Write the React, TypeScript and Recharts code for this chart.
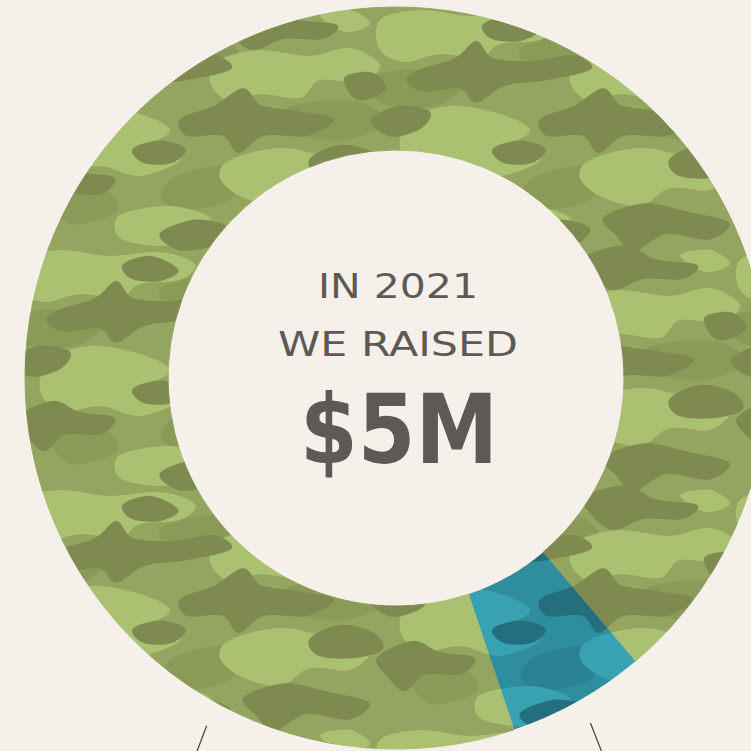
import { PieChart, Pie, Cell } from 'recharts';

// share of the $5M raised in 2021 (millions)
const SLICE_NAMES = ['Events', 'Donations', 'Grants', 'Veterans outreach'];
const SLICE_VALUES = [0.83, 2.56, 1.31, 0.3];
const SLICE_KIND = ['green', 'green', 'green', 'blue'];

const HEADLINE = ['IN 2021', 'WE RAISED'];
const TOTAL_LABEL = '$5M';

const BG = '#f5f1ea';
const INK = '#5e5957';

const PALETTES: Record<string, { base: string; mid: string; light: string; dark: string }> = {
  green: { base: '#94a560', mid: '#8a9a57', light: '#a9c170', dark: '#7e8a50' },
  blue: { base: '#2e8e9d', mid: '#2a8191', light: '#38a2b2', dark: '#246f7e' },
};

// camo tile artwork
const TW = 360;
const TH = 240;
const MID_BLOBS = [
  [[150, 40], [190, 30], [210, 45], [190, 60], [160, 58]],
  [[0, 70], [40, 64], [70, 76], [50, 92], [10, 90]],
  [[160, 170], [200, 162], [205, 185], [175, 195], [150, 188]],
  [[280, 100], [330, 96], [355, 112], [320, 126], [285, 120]],
  [[40, 190], [80, 184], [90, 200], [55, 210]],
  [[60, 120], [100, 112], [115, 130], [80, 140], [55, 134]],
];
const LIGHT_BLOBS = [
  [[0, 10], [40, 0], [90, 6], [140, 2], [175, 14], [160, 30], [120, 34], [100, 48], [60, 44], [25, 52], [0, 40]],
  [[200, 50], [240, 40], [290, 46], [330, 38], [360, 55], [340, 72], [300, 70], [280, 88], [240, 84], [210, 92], [190, 72]],
  [[30, 110], [70, 96], [120, 104], [150, 120], [130, 138], [160, 150], [120, 166], [80, 156], [40, 162], [20, 140]],
  [[210, 150], [260, 138], [310, 148], [350, 160], [330, 180], [290, 178], [260, 196], [220, 186], [200, 168]],
  [[100, 205], [150, 196], [190, 208], [175, 226], [140, 236], [100, 228]],
  [[300, 5], [330, 0], [350, 14], [325, 22]],
];
const DARK_BLOBS = [
  [[60, 60], [85, 52], [100, 40], [112, 52], [140, 54], [170, 50], [182, 60], [150, 68], [120, 72], [100, 84], [88, 74], [62, 76], [50, 68]],
  [[220, 10], [250, 2], [270, 12], [300, 16], [290, 26], [262, 26], [240, 34], [225, 24]],
  [[180, 110], [205, 100], [225, 88], [238, 100], [262, 104], [290, 110], [270, 122], [240, 122], [222, 134], [210, 122], [185, 122]],
  [[10, 170], [35, 158], [55, 166], [80, 170], [70, 182], [45, 182], [30, 194], [18, 184]],
  [[240, 210], [270, 200], [300, 206], [330, 214], [315, 226], [285, 222], [262, 234], [248, 222]],
  [[120, 140], [140, 134], [158, 140], [148, 150], [128, 150]],
  [[330, 70], [350, 66], [360, 78], [340, 86]],
  [[0, 110], [20, 100], [42, 104], [36, 116], [14, 122]],
  [[110, 16], [130, 10], [150, 20], [136, 28], [116, 26]],
  [[300, 150], [322, 140], [346, 146], [352, 158], [330, 164], [306, 162]],
  [[150, 224], [176, 214], [200, 220], [190, 232], [164, 236]],
];

function scaleBlob(pts: number[][], k: number) {
  const mx = pts.reduce((a, p) => a + p[0], 0) / pts.length;
  const my = pts.reduce((a, p) => a + p[1], 0) / pts.length;
  return pts.map(([x, y]) => [mx + (x - mx) * k, my + (y - my) * k]);
}

function blobPath(pts: number[][]) {
  const n = pts.length;
  let d = `M${pts[0][0]},${pts[0][1]}`;
  for (let i = 0; i < n; i++) {
    const p0 = pts[(i - 1 + n) % n];
    const p1 = pts[i];
    const p2 = pts[(i + 1) % n];
    const p3 = pts[(i + 2) % n];
    const c1 = [p1[0] + (p2[0] - p0[0]) / 6, p1[1] + (p2[1] - p0[1]) / 6];
    const c2 = [p2[0] - (p3[0] - p1[0]) / 6, p2[1] - (p3[1] - p1[1]) / 6];
    d += ` C${c1[0]},${c1[1]} ${c2[0]},${c2[1]} ${p2[0]},${p2[1]}`;
  }
  return d + 'Z';
}

const OFFSETS = [-1, 0, 1].flatMap((i) => [-1, 0, 1].map((j) => [i * TW, j * TH]));

function Blobs({ shapes, fill, grow = 1 }: { shapes: number[][][]; fill: string; grow?: number }) {
  const paths = shapes.map((s) => blobPath(scaleBlob(s, grow)));
  return (
    <g fill={fill}>
      {OFFSETS.map(([dx, dy], k) => (
        <g key={k} transform={`translate(${dx},${dy})`}>
          {paths.map((d, i) => (
            <path key={i} d={d} />
          ))}
        </g>
      ))}
    </g>
  );
}

function CamoPattern({ id, kind }: { id: string; kind: string }) {
  const p = PALETTES[kind];
  return (
    <pattern id={id} patternUnits="userSpaceOnUse" width={TW} height={TH} x={20} y={10}>
      <rect width={TW} height={TH} fill={p.base} />
      <Blobs shapes={MID_BLOBS} fill={p.mid} grow={1.3} />
      <Blobs shapes={LIGHT_BLOBS} fill={p.light} />
      <Blobs shapes={DARK_BLOBS} fill={p.dark} grow={1.4} />
    </pattern>
  );
}

const RADIAN = Math.PI / 180;

// short pointer that leans a little toward vertical
function LeaderLine(props: any) {
  const { cx, cy, midAngle, outerRadius } = props;
  const r1 = outerRadius + 25;
  const c = Math.cos(-midAngle * RADIAN);
  const s = Math.sin(-midAngle * RADIAN);
  const dx = 0.7 * c;
  const len = Math.hypot(dx, s);
  const x1 = cx + r1 * c;
  const y1 = cy + r1 * s;
  return (
    <line
      x1={x1}
      y1={y1}
      x2={x1 + (60 * dx) / len}
      y2={y1 + (60 * s) / len}
      stroke="#4f4b49"
      strokeWidth={1.3}
    />
  );
}

export default function App() {
  const data = SLICE_NAMES.map((name, i) => ({ name, value: SLICE_VALUES[i], kind: SLICE_KIND[i] }));
  return (
    <div
      style={{
        position: 'fixed',
        left: 0,
        top: 0,
        width: 751,
        height: 751,
        overflow: 'hidden',
        background: BG,
      }}
    >
      <svg width={0} height={0} style={{ position: 'absolute' }}>
        <defs>
          <CamoPattern id="camo-green" kind="green" />
          <CamoPattern id="camo-blue" kind="blue" />
        </defs>
      </svg>
      <PieChart
        width={751}
        height={751}
        margin={{ top: 0, right: 0, bottom: 0, left: 0 }}
        style={{ position: 'absolute', left: 0, top: 0 }}
      >
        <Pie
          data={data}
          dataKey="value"
          nameKey="name"
          cx={396}
          cy={378}
          innerRadius={228}
          outerRadius={371}
          startAngle={-49.8}
          endAngle={310.2}
          label={LeaderLine}
          labelLine={false}
          isAnimationActive={false}
        >
          {data.map((d, i) => (
            <Cell
              key={i}
              fill={`url(#camo-${d.kind})`}
              stroke={d.kind === 'green' ? 'url(#camo-green)' : 'none'}
              strokeWidth={d.kind === 'green' ? 1 : 0}
            />
          ))}
        </Pie>
      </PieChart>
      <svg width={751} height={751} style={{ position: 'absolute', left: 0, top: 0, pointerEvents: 'none' }}>
        <g fill={INK} textAnchor="middle" fontFamily="'DejaVu Sans', sans-serif">
          <text x={398} y={298} fontSize={33} textLength={160} lengthAdjust="spacingAndGlyphs">
            {HEADLINE[0]}
          </text>
          <text x={398} y={356} fontSize={33} textLength={240} lengthAdjust="spacingAndGlyphs">
            {HEADLINE[1]}
          </text>
          <text x={399} y={463} fontSize={96} fontWeight="bold" textLength={198} lengthAdjust="spacingAndGlyphs">
            {TOTAL_LABEL}
          </text>
        </g>
      </svg>
    </div>
  );
}
